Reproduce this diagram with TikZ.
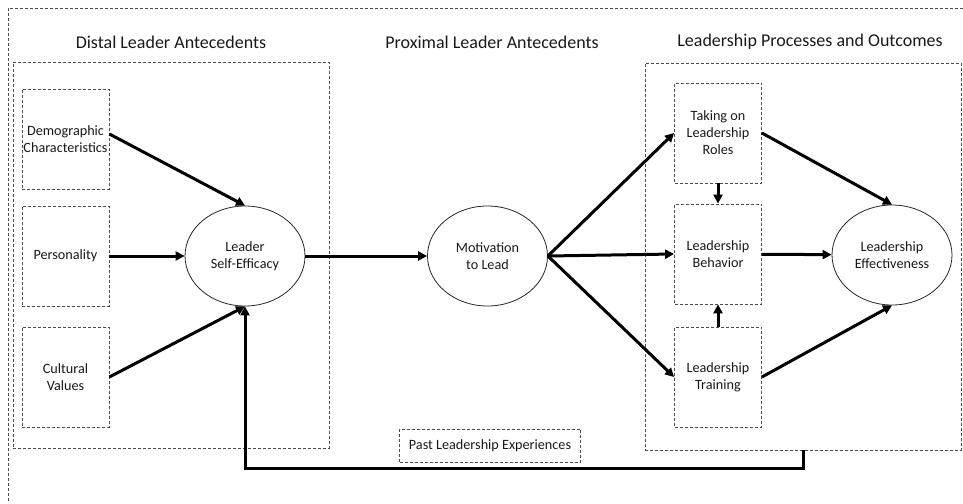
\documentclass[tikz,border=0pt]{standalone}
\usepackage{fontspec}
\setmainfont{Carlito}
\usetikzlibrary{arrows.meta, shapes.geometric}

\begin{document}
\begin{tikzpicture}[x=1pt, y=-1pt,
    every node/.style={text=black!90, align=center, font=\fontsize{14.2}{17}\selectfont},
    grp/.style={draw=black!70, dash pattern=on 3pt off 2pt, line width=0.8pt},
    fact/.style={grp, minimum width=87pt, minimum height=100pt, inner sep=1pt},
    latent/.style={ellipse, draw=black!85, line width=0.8pt, minimum width=120pt, minimum height=100pt, inner sep=0pt},
    head/.style={font=\fontsize{18}{21}\selectfont},
    arr/.style={-{Triangle[length=9pt,width=9pt]}, line width=3pt}]
    \useasboundingbox (0,0) rectangle (963,503);

    % outer frame and the three stage headings
    \draw[grp] (963,8) -- (8,8) -- (8,503);
    \node[head] (hdistal) at (171,42) {Distal Leader Antecedents};
    \node[head] (hproximal) at (492,42) {Proximal Leader Antecedents};
    \node[head] (hprocs) at (810,42) {Leadership Processes and Outcomes};

    % group boxes
    \node[grp, minimum width=316pt, minimum height=386pt] (distal) at (171,255) {};
    \node[grp, minimum width=316pt, minimum height=387pt] (procs) at (803,256.5) {};

    % distal antecedents
    \node[fact] at (65.5,139) (demo) {Demographic\\Characteristics};
    \node[fact] at (65.5,256) (pers) {Personality};
    \node[fact] at (65.5,377) (cult) {Cultural\\Values};
    \node[latent] at (245,256) (lse) {Leader\\Self-Efficacy};

    % proximal antecedent
    \node[latent] at (487.5,256) (mtl) {Motivation\\to Lead};
    \node[grp, minimum width=181pt, minimum height=33pt] at (490,445.5) (past) {Past Leadership Experiences};

    % processes and outcomes
    \node[fact] at (718,133) (roles) {Taking on\\Leadership\\Roles};
    \node[fact] at (718,254) (behav) {Leadership\\Behavior};
    \node[fact] at (718,377) (train) {Leadership\\Training};
    \node[latent] at (892,255) (eff) {Leadership\\Effectiveness};

    \draw[arr] ([yshift=5pt]demo.east) -- (lse.north);
    \draw[arr] (pers) -- (lse);
    \draw[arr] (cult.east) -- (lse.south);
    \draw[arr] (lse) -- (mtl);
    \draw[arr] (mtl.east) -- (roles.west);
    \draw[arr] (mtl.east) -- (behav.west);
    \draw[arr] (mtl.east) -- (train.west);
    \draw[arr] (roles) -- (behav);
    \draw[arr] (train) -- (behav);
    \draw[arr] (roles.east) -- (eff.north);
    \draw[arr] (behav) -- (eff);
    \draw[arr] (train.east) -- (eff.south);

    % feedback from processes back to self-efficacy
    \draw[arr] (procs.south) -- ++(0,18) -| (lse.south);
\end{tikzpicture}
\end{document}
